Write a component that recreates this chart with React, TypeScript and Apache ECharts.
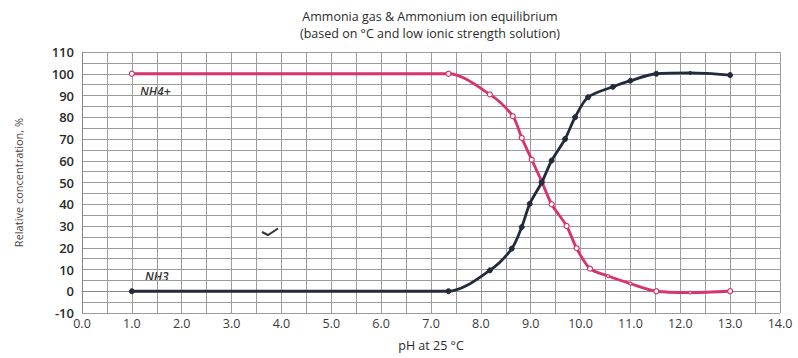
import React, { useEffect, useRef } from "react";
import * as echarts from "echarts";

const titleLines = ["Ammonia gas & Ammonium ion equilibrium", "(based on °C and low ionic strength solution)"];
const xAxisName = "pH at 25 °C";
const yAxisName = "Relative concentration, %";

// NH4+ (pink, hollow markers)
const nh4pH = [1.0, 7.35, 8.18, 8.64, 8.82, 9.02, 9.22, 9.42, 9.72, 9.92, 10.19, 10.55, 11.0, 11.52, 12.2, 13.0];
const nh4Val = [100, 100, 90.5, 80.5, 70.5, 60.5, 50.5, 40, 30, 19.8, 10.4, 7, 3.5, 0, -0.6, 0];
const nh4Marked = [true, true, true, true, true, true, true, true, true, true, true, false, false, true, false, true];

// NH3 (navy, filled markers)
const nh3pH = [1.0, 7.35, 8.18, 8.62, 8.82, 8.98, 9.22, 9.42, 9.69, 9.89, 10.15, 10.65, 11.0, 11.52, 12.2, 13.0];
const nh3Val = [0, 0, 9.6, 19.6, 29.5, 40.2, 50, 60.1, 70, 80, 89.2, 94, 96.8, 100, 100.4, 99.4];
const nh3Marked = [true, true, true, true, true, true, true, true, true, true, true, true, true, true, false, true];

const PINK = "#d8336c";
const NAVY = "#222a3c";
const FONT = "'Open Sans', 'Noto Sans', sans-serif";
const GRID = "#9c9c9c";

export default function App() {
  const ref = useRef<HTMLDivElement>(null);
  useEffect(() => {
    if (!ref.current) return;
    const chart = echarts.init(ref.current, null, { renderer: "svg" });
    const mk = (xs: number[], ys: number[], marked: boolean[]) =>
      xs.map((x, i) => ({ value: [x, ys[i]], symbolSize: marked[i] ? 5 : 3 }));
    chart.setOption({
      animation: false,
      backgroundColor: "#ffffff",
      textStyle: { fontFamily: FONT },
      title: {
        text: titleLines.join("\n"),
        left: 425,
        top: 3,
        textAlign: "center",
        textStyle: { fontSize: 12.5, fontWeight: "normal", color: "#2a2a2a", lineHeight: 17, fontFamily: FONT },
      },
      grid: { left: 82, right: 18, top: 52, bottom: 45, show: false },
      xAxis: {
        type: "value",
        min: 0,
        max: 14,
        interval: 1,
        name: xAxisName,
        nameLocation: "middle",
        nameGap: 26,
        nameTextStyle: { fontSize: 12.5, color: "#2a2a2a", fontFamily: FONT },
        axisLine: { show: true, lineStyle: { color: "#888", width: 1 } },
        axisTick: { show: false },
        axisLabel: {
          fontSize: 12.5,
          color: "#3a3a3a",
          margin: 4,
          formatter: (v: number) => v.toFixed(1),
        },
        splitLine: { show: true, lineStyle: { color: GRID, width: 1 } },
        minorTick: { show: false, splitNumber: 2 },
        minorSplitLine: { show: true, lineStyle: { color: GRID, width: 1 } },
      },
      yAxis: {
        type: "value",
        min: -10,
        max: 110,
        interval: 10,
        name: yAxisName,
        nameLocation: "middle",
        nameGap: 58,
        nameTextStyle: { fontSize: 11, color: "#444", fontFamily: FONT },
        axisLine: { show: true, lineStyle: { color: "#888", width: 1 } },
        axisTick: { show: false },
        axisLabel: { fontSize: 13, color: "#2a2a2a", margin: 8, fontWeight: 600 },
        splitLine: { show: true, lineStyle: { color: GRID, width: 1 } },
        minorTick: { show: false, splitNumber: 2 },
        minorSplitLine: { show: true, lineStyle: { color: GRID, width: 1 } },
      },
      series: [
        {
          name: "NH4+",
          type: "line",
          smooth: 0.3,
          data: mk(nh4pH, nh4Val, nh4Marked),
          symbol: "circle",
          lineStyle: { color: PINK, width: 2.8 },
          itemStyle: { color: "#ffffff", borderColor: PINK, borderWidth: 1.2 },
          z: 3,
        },
        {
          name: "NH3",
          type: "line",
          smooth: 0.3,
          data: mk(nh3pH, nh3Val, nh3Marked),
          symbol: "circle",
          lineStyle: { color: NAVY, width: 2.8 },
          itemStyle: { color: NAVY, borderColor: NAVY, borderWidth: 1 },
          z: 4,
        },
      ],
      graphic: [
        {
          type: "text",
          left: 140,
          top: 85,
          style: { text: "NH4+", font: `italic 600 12px ${FONT}`, fill: "#333" },
        },
        {
          type: "text",
          left: 145,
          top: 270,
          style: { text: "NH3", font: `italic 600 12px ${FONT}`, fill: "#333" },
        },
        {
          type: "polyline",
          shape: { points: [[262, 232], [268, 235], [278, 228.5]] },
          style: { stroke: "#333", lineWidth: 2, fill: "none" },
        },
      ],
    });
    return () => chart.dispose();
  }, []);
  return (
    <div
      ref={ref}
      style={{ position: "absolute", left: 0, top: 0, width: 798, height: 358 }}
    />
  );
}
